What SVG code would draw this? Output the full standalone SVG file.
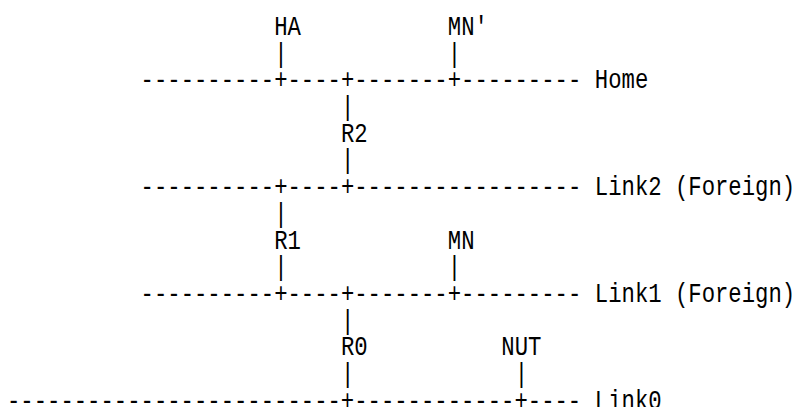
<svg xmlns="http://www.w3.org/2000/svg" width="794" height="407" viewBox="0 0 794 407">
<style>
text{font-family:"Liberation Mono","DejaVu Sans Mono",monospace;font-size:27.83px;fill:#000;white-space:pre}
</style>
<rect width="794" height="407" fill="#fff"/>
<g transform="scale(0.8,1)">
<g id="connectors">
<text x="342.75" y="61.7">|</text>
<text x="559.85" y="61.7">|</text>
<text x="175.75" y="88.4">----------+----+-------+---------</text>
<text x="426.25" y="115.1">|</text>
<text x="426.25" y="168.5">|</text>
<text x="175.75" y="195.2">----------+----+-----------------</text>
<text x="342.75" y="221.9">|</text>
<text x="342.75" y="275.3">|</text>
<text x="559.85" y="275.3">|</text>
<text x="175.75" y="302">----------+----+-------+---------</text>
<text x="426.25" y="328.7">|</text>
<text x="426.25" y="382.1">|</text>
<text x="643.35" y="382.1">|</text>
<text x="8.75" y="408.8">-------------------------+------------+----</text>
</g>
<g id="HA"><text x="342.75" y="35">HA</text></g>
<g id="MNprime"><text x="559.85" y="35">MN'</text></g>
<g id="Home"><text x="743.55" y="88.4">Home</text></g>
<g id="R2"><text x="426.25" y="141.8">R2</text></g>
<g id="Link2"><text x="743.55" y="195.2">Link2 (Foreign)</text></g>
<g id="R1"><text x="342.75" y="248.6">R1</text></g>
<g id="MN"><text x="559.85" y="248.6">MN</text></g>
<g id="Link1"><text x="743.55" y="302">Link1 (Foreign)</text></g>
<g id="R0"><text x="426.25" y="355.4">R0</text></g>
<g id="NUT"><text x="626.65" y="355.4">NUT</text></g>
<g id="Link0"><text x="743.55" y="408.8">Link0</text></g>
</g>
</svg>
